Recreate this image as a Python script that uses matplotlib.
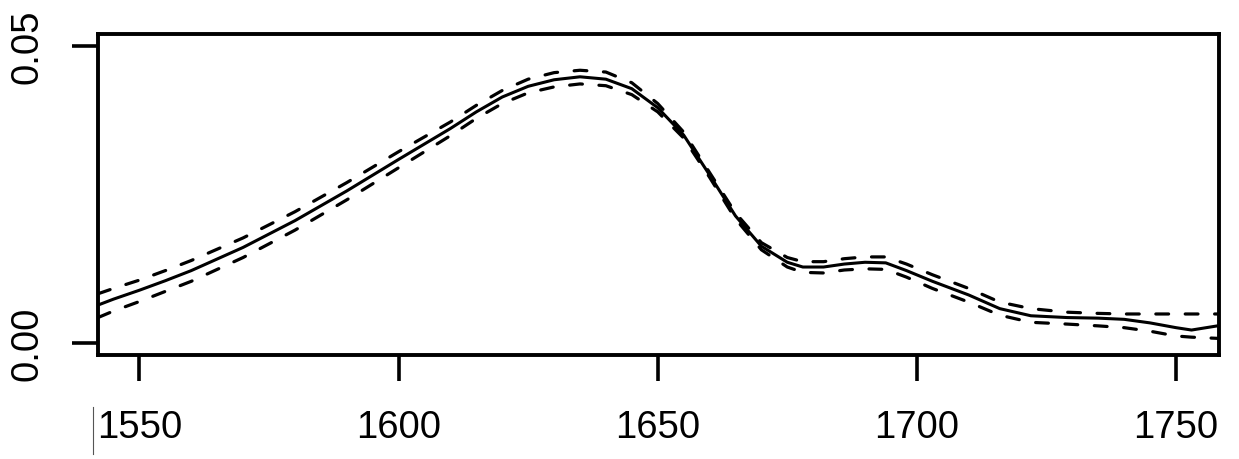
import matplotlib
matplotlib.use('Agg')
import matplotlib.pyplot as plt
from matplotlib.lines import Line2D

# Valores (estimativa centro + banda)
wavenumber = [1542, 1545, 1550, 1555, 1560, 1570, 1580, 1590, 1600, 1610,
              1615, 1620, 1625, 1630, 1635, 1640, 1645, 1650, 1655, 1660,
              1665, 1670, 1675, 1678, 1682, 1686, 1690, 1694, 1698, 1703,
              1710, 1716, 1722, 1729, 1735, 1740, 1745, 1750, 1753, 1758]
centro = [0.0064, 0.0074, 0.0089, 0.0105, 0.0122, 0.0161, 0.0206, 0.0256, 0.0309, 0.0361,
          0.0389, 0.0414, 0.0432, 0.0443, 0.0448, 0.0444, 0.0428, 0.0396, 0.0350, 0.0283,
          0.0214, 0.0163, 0.0136, 0.0128, 0.0128, 0.0133, 0.0136, 0.0135, 0.0122, 0.0104,
          0.0081, 0.0058, 0.0046, 0.0043, 0.0042, 0.0040, 0.0034, 0.0026, 0.0022, 0.0029]
superior = [0.0083, 0.0092, 0.0106, 0.0122, 0.0139, 0.0177, 0.0221, 0.0270, 0.0322, 0.0372,
            0.0400, 0.0425, 0.0444, 0.0455, 0.0459, 0.0456, 0.0438, 0.0403, 0.0355, 0.0287,
            0.0219, 0.0169, 0.0144, 0.0137, 0.0137, 0.0142, 0.0145, 0.0145, 0.0133, 0.0115,
            0.0092, 0.0069, 0.0058, 0.0052, 0.0050, 0.0049, 0.0049, 0.0049, 0.0049, 0.0049]
inferior = [0.0043, 0.0054, 0.0070, 0.0087, 0.0104, 0.0144, 0.0190, 0.0241, 0.0295, 0.0349,
            0.0378, 0.0403, 0.0421, 0.0431, 0.0436, 0.0433, 0.0418, 0.0389, 0.0345, 0.0279,
            0.0209, 0.0157, 0.0128, 0.0119, 0.0118, 0.0123, 0.0125, 0.0124, 0.0111, 0.0092,
            0.0069, 0.0047, 0.0035, 0.0032, 0.0029, 0.0026, 0.0020, 0.0012, 0.0010, 0.0008]

xticks = [1550, 1600, 1650, 1700, 1750]
yticks = [0.00, 0.05]
ylabels = ['0.00', '0.05']

plt.rcParams['font.family'] = ['Liberation Sans', 'DejaVu Sans']

fig = plt.figure(figsize=(12.39, 4.6), dpi=100)
ax = fig.add_axes([98 / 1239, 1 - 356 / 460, (1219 - 98) / 1239, (356 - 35) / 460])

tracejado = (0, (4.0, 5.2))
for banda in (superior, inferior):
    ax.plot(wavenumber, banda, color='black', lw=2.3, linestyle=tracejado,
            dash_capstyle='round')
ax.plot(wavenumber, centro, color='black', lw=2.2, solid_joinstyle='round')

ax.set_xlim(1542, 1758.3)
ax.set_ylim(-0.0020, 0.0520)

ax.set_xticks(xticks)
ax.set_xticklabels([str(t) for t in xticks])
ax.set_yticks(yticks)
ax.set_yticklabels(ylabels, rotation=90, va='center')

ax.tick_params(axis='both', direction='out', length=19, width=2.6,
               labelsize=27.5, colors='black')
ax.tick_params(axis='x', pad=20)
ax.tick_params(axis='y', pad=19)
for lado in ax.spines.values():
    lado.set_linewidth(2.8)

# traço fino à esquerda do rótulo 1550 (presente na imagem original)
fig.add_artist(Line2D([93 / 1239, 93 / 1239], [1 - 455 / 460, 1 - 408 / 460],
                      color='#555555', lw=0.8))

plt.savefig('out.png', dpi=100)
